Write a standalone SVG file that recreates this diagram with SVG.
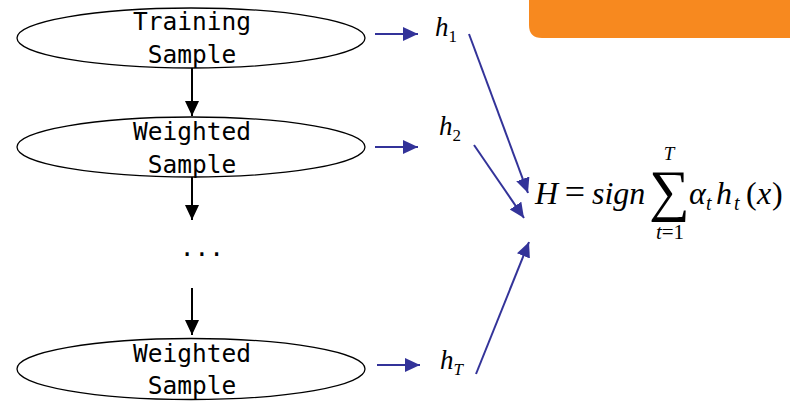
<svg xmlns="http://www.w3.org/2000/svg" width="790" height="401" viewBox="0 0 790 401">
<style>
.node ellipse{fill:#fff;stroke:#000;stroke-width:1.3}
.mono{font-family:"DejaVu Sans Mono","Liberation Mono",monospace;font-size:24.5px;fill:#000;text-anchor:middle}
.blk{stroke:#000;stroke-width:2;fill:none}
.blu{stroke:#333399;stroke-width:2;fill:none}
.math{font-family:"Liberation Serif","DejaVu Serif",serif;font-style:italic;fill:#000}
.up{font-family:"Liberation Serif","DejaVu Serif",serif;fill:#000}
</style>
<defs>
<marker id="ab" markerUnits="userSpaceOnUse" markerWidth="16" markerHeight="16" refX="15" refY="7" orient="auto">
<path d="M0,0 L15,7 L0,14 Z" fill="#000"/>
</marker>
<marker id="au" markerUnits="userSpaceOnUse" markerWidth="16" markerHeight="16" refX="15" refY="7" orient="auto">
<path d="M0,0 L15,7 L0,14 Z" fill="#333399"/>
</marker>
</defs>
<path d="M529,0 H790 V38 H542 Q529,38 529,25 Z" fill="#F7891F"/>
<g id="n1" class="node">
<ellipse cx="191" cy="38" rx="174" ry="30"/>
<text class="mono" x="192" y="30">Training</text>
<text class="mono" x="192" y="63">Sample</text>
</g>
<g id="n2" class="node">
<ellipse cx="191" cy="147" rx="174" ry="30"/>
<text class="mono" x="192" y="140">Weighted</text>
<text class="mono" x="192" y="173">Sample</text>
</g>
<g id="dots">
<text class="mono" x="202" y="256">...</text>
</g>
<g id="n3" class="node">
<ellipse cx="191" cy="369" rx="174" ry="30.5"/>
<text class="mono" x="192" y="362">Weighted</text>
<text class="mono" x="192" y="394">Sample</text>
</g>
<g id="h1"><text class="math" x="435" y="36" font-size="27">h<tspan font-size="17" font-style="normal" dy="6">1</tspan></text></g>
<g id="h2"><text class="math" x="439" y="135" font-size="27">h<tspan font-size="17" font-style="normal" dy="6">2</tspan></text></g>
<g id="hT"><text class="math" x="440" y="369" font-size="27">h<tspan font-size="17" dy="6">T</tspan></text></g>
<g id="formula">
<text class="math" x="535" y="204" font-size="32">H</text>
<text class="up" x="575" y="204" font-size="36" text-anchor="middle">=</text>
<text class="math" x="592" y="204" font-size="32">sign</text>
<text class="up" x="669.5" y="209.5" font-size="57" text-anchor="middle">∑</text>
<text class="math" x="669" y="160" font-size="19" text-anchor="middle">T</text>
<text class="math" x="670" y="239" font-size="21" text-anchor="middle">t<tspan font-style="normal">=1</tspan></text>
<text class="math" x="689" y="204" font-size="32">α</text>
<text class="math" x="706" y="210" font-size="20">t</text>
<text class="math" x="716" y="204" font-size="32">h</text>
<text class="math" x="734" y="210" font-size="20">t</text>
<text class="up" x="746" y="204" font-size="32">(</text>
<text class="math" x="757" y="204" font-size="32">x</text>
<text class="up" x="772" y="204" font-size="32">)</text>
</g>
<g id="connectors">
<line class="blk" x1="192" y1="68" x2="192" y2="116" marker-end="url(#ab)"/>
<line class="blk" x1="192" y1="177" x2="192" y2="220" marker-end="url(#ab)"/>
<line class="blk" x1="192" y1="288" x2="192" y2="335" marker-end="url(#ab)"/>
<line class="blu" x1="375" y1="34" x2="418" y2="34" marker-end="url(#au)"/>
<line class="blu" x1="375" y1="147" x2="418" y2="147" marker-end="url(#au)"/>
<line class="blu" x1="377" y1="365" x2="420" y2="365" marker-end="url(#au)"/>
<line class="blu" x1="469" y1="34" x2="528" y2="193" marker-end="url(#au)"/>
<line class="blu" x1="474" y1="145" x2="524" y2="218" marker-end="url(#au)"/>
<line class="blu" x1="476" y1="374" x2="529" y2="242" marker-end="url(#au)"/>
</g>
</svg>
